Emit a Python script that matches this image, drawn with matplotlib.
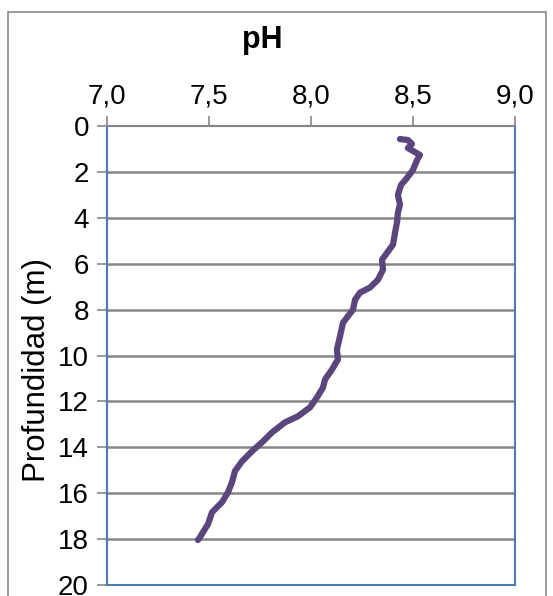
import numpy as np
import matplotlib.pyplot as plt
from matplotlib.patches import Rectangle

plt.rcParams['font.family'] = ['Liberation Sans', 'DejaVu Sans']

# pH profile
depth = [0.57, 0.61, 0.78, 0.96, 1.26, 1.48, 1.91, 2.26, 2.57, 3.00, 3.43, 3.78,
         4.17, 4.65, 5.17, 5.52, 5.83, 6.26, 6.70, 7.04, 7.26, 7.57, 8.00, 8.57,
         9.17, 9.74, 10.17, 10.61, 11.04, 11.39, 11.83, 12.26, 12.65, 12.91,
         13.35, 13.74, 14.17, 14.61, 15.04, 15.52, 15.96, 16.39, 16.83, 17.35,
         17.91, 18.04]
ph = [8.436, 8.475, 8.495, 8.475, 8.534, 8.520, 8.500, 8.471, 8.441, 8.426,
      8.436, 8.426, 8.422, 8.412, 8.402, 8.373, 8.348, 8.353, 8.328, 8.289,
      8.240, 8.216, 8.206, 8.157, 8.142, 8.127, 8.132, 8.103, 8.069, 8.059,
      8.029, 7.995, 7.936, 7.873, 7.809, 7.765, 7.711, 7.662, 7.627, 7.613,
      7.593, 7.564, 7.515, 7.495, 7.456, 7.446]

xticks = [7.0, 7.5, 8.0, 8.5, 9.0]
xticklabels = ['7,0', '7,5', '8,0', '8,5', '9,0']
yticks = [0, 2, 4, 6, 8, 10, 12, 14, 16, 18, 20]

fig = plt.figure(figsize=(5.53, 5.96), dpi=100)
ax = fig.add_axes([107/553, 1 - 585/596, 408/553, 459/596])

# outer chart border
fig.patches.append(Rectangle((8/553, -0.05), 538/553, 1.05 - 12/596,
                             transform=fig.transFigure, fill=False,
                             edgecolor='#898989', lw=1.2))

for y in yticks[1:-1]:
    ax.axhline(y, color='#868686', lw=1.8, zorder=1)

ax.plot(ph, depth, color='#58467C', lw=4.5, solid_capstyle='round',
        solid_joinstyle='round', zorder=3)

ax.set_xlim(7.0, 9.0)
ax.set_ylim(20, 0)
ax.xaxis.tick_top()
ax.set_xticks(xticks)
ax.set_xticklabels(xticklabels)
ax.set_yticks(yticks)
ax.tick_params(axis='both', labelsize=20, color='#868686', length=7, width=1.2,
               direction='out')
ax.tick_params(axis='x', pad=5)
ax.tick_params(axis='y', pad=6)

for s in ['left', 'right', 'bottom']:
    ax.spines[s].set_color('#4A7EBB')
    ax.spines[s].set_linewidth(1.5)
ax.spines['top'].set_color('#868686')
ax.spines['top'].set_linewidth(1.5)

ax.set_ylabel('Profundidad (m)', fontsize=22.5)
ax.yaxis.set_label_coords(-0.135, 0.468)
fig.text(262/553, 1 - 40/596, 'pH', fontsize=22, fontweight='bold',
         ha='center', va='center')

fig.savefig('out.png', dpi=100)
